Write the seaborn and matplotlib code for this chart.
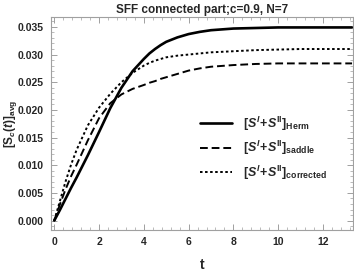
import numpy as np
import pandas as pd
import matplotlib
matplotlib.use("Agg")
import matplotlib.pyplot as plt
from matplotlib.ticker import MultipleLocator
import seaborn as sns

# values
t = [0, 0.25, 0.5, 0.75, 1, 1.5, 2, 2.5, 3, 3.5, 4, 4.25, 4.5, 4.75, 5, 5.5, 6, 6.5, 7, 8, 9, 10, 11, 12, 13.3]
herm = [0, 0.0019, 0.0039, 0.0059, 0.0078, 0.0118, 0.0160, 0.0203, 0.0240, 0.0270, 0.0292, 0.0302,
        0.0310, 0.0317, 0.0323, 0.0331, 0.0337, 0.0341, 0.0344, 0.0347, 0.0348, 0.0349, 0.0349, 0.0349, 0.0349]
saddle = [0, 0.0029, 0.0056, 0.0080, 0.0101, 0.0145, 0.0185, 0.0212, 0.0228, 0.0238, 0.0245, 0.0249,
          0.0252, 0.0256, 0.0259, 0.0265, 0.0271, 0.0275, 0.0278, 0.0281, 0.0283, 0.0284, 0.0284, 0.0284, 0.0284]
corrected = [0, 0.0035, 0.0070, 0.0101, 0.0128, 0.0172, 0.0204, 0.0229, 0.0250, 0.0267, 0.0280, 0.0285,
             0.0289, 0.0292, 0.0295, 0.0298, 0.0300, 0.0302, 0.0304, 0.0306, 0.0308, 0.0309, 0.0310, 0.0310, 0.0310]

labels = [r"$[S^{I}\!+\!S^{\mathrm{II}}]_{\mathrm{Herm}}$",
          r"$[S^{I}\!+\!S^{\mathrm{II}}]_{\mathrm{saddle}}$",
          r"$[S^{I}\!+\!S^{\mathrm{II}}]_{\mathrm{corrected}}$"]

sns.set_style("ticks")
plt.rcParams['font.family'] = ['Liberation Sans', 'DejaVu Sans']
plt.rcParams['font.weight'] = 'bold'
plt.rcParams['mathtext.fontset'] = 'custom'
plt.rcParams['mathtext.rm'] = 'Liberation Sans:bold'
plt.rcParams['mathtext.it'] = 'Liberation Sans:italic:bold'
plt.rcParams['mathtext.bf'] = 'Liberation Sans:bold'

df = pd.DataFrame({"t": t, "herm": herm, "saddle": saddle, "corrected": corrected})

fig = plt.figure(figsize=(3.54, 2.73), dpi=100)
ax = fig.add_axes([0.144, 0.158, 0.853, 0.779])

sns.lineplot(data=df, x="t", y="herm", ax=ax, color="black", lw=1.9, label=labels[0])
sns.lineplot(data=df, x="t", y="saddle", ax=ax, color="black", lw=1.4,
             linestyle=(0, (4, 2)), label=labels[1])
sns.lineplot(data=df, x="t", y="corrected", ax=ax, color="black", lw=1.4,
             linestyle=(0, (1.3, 1.3)), label=labels[2])

ax.set_xlim(-0.147, 13.34)
ax.set_ylim(-0.00168, 0.03675)
ax.xaxis.set_major_locator(MultipleLocator(2))
ax.xaxis.set_minor_locator(MultipleLocator(0.4))
ax.yaxis.set_major_locator(MultipleLocator(0.005))
ax.yaxis.set_minor_locator(MultipleLocator(0.001))
ax.yaxis.set_major_formatter(matplotlib.ticker.FormatStrFormatter("%.3f"))

for s in ax.spines.values():
    s.set_color("#a0a0a0")
    s.set_linewidth(0.8)
ax.tick_params(which="both", direction="in", top=True, right=True, color="#a0a0a0",
               labelsize=7.5)
ax.tick_params(axis="x", pad=5)
ax.tick_params(axis="y", pad=5)
ax.tick_params(which="major", length=4, width=0.7)
ax.tick_params(which="minor", length=2, width=0.5)
for lab in ax.get_xticklabels() + ax.get_yticklabels():
    lab.set_fontweight("bold")

ax.set_title("SFF connected part;c=0.9, N=7", fontsize=8.5, fontweight="bold", pad=3)
ax.set_xlabel("t", fontsize=10, fontweight="bold", labelpad=8)
ax.set_ylabel(r"$[\mathrm{S}_{c}(t)]_{\mathrm{avg}}$", fontsize=8.5, labelpad=2)
ax.yaxis.set_label_coords(-0.105, 0.5)

ax.legend(loc="center left", bbox_to_anchor=(0.455, 0.385), frameon=False, fontsize=9,
          handlelength=2.6, labelspacing=0.5, handletextpad=0.9)

fig.savefig("out.png", dpi=100)
